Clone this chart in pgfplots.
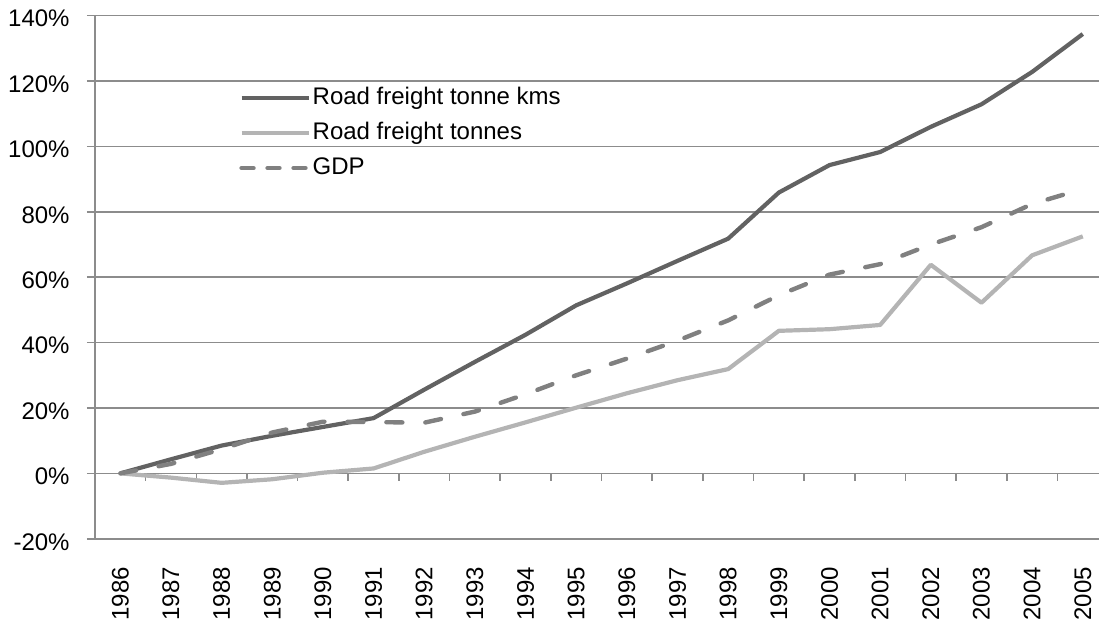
\documentclass[border=0pt]{standalone}
\usepackage{fontspec}
\setmainfont{Liberation Sans}
\usepackage{pgfplots}
\pgfplotsset{compat=1.18}
\definecolor{darkl}{HTML}{626262}
\definecolor{lightl}{HTML}{B4B4B4}
\definecolor{gdpl}{HTML}{808080}
\definecolor{gridc}{HTML}{8C8C8C}
\begin{document}
\fontsize{12}{14}\selectfont
\begin{tikzpicture}
\begin{axis}[
  scale only axis, width=502.25pt, height=261.65pt,
  xmin=-0.5, xmax=19.32, ymin=-20, ymax=140,
  axis y line*=left, axis x line*=bottom,
  x axis line style={draw=none},
  y axis line style={draw=gridc, line width=0.75pt},
  ymajorgrids, grid style={draw=gridc, line width=0.75pt},
  tick align=outside, major tick length=4pt,
  xtick style={draw=none},
  ytick style={draw=gridc, line width=0.75pt},
  ytick={-20,0,20,40,60,80,100,120,140},
  yticklabels={-20\%,0\%,20\%,40\%,60\%,80\%,100\%,120\%,140\%},
  xtick={0,...,19},
  xticklabels={1986,1987,1988,1989,1990,1991,1992,1993,1994,1995,1996,1997,1998,1999,2000,2001,2002,2003,2004,2005},
  ticklabel style={font=\fontsize{12}{14}\selectfont},
  xticklabel style={rotate=90, anchor=east, xshift=-6pt},
  yticklabel style={xshift=-4.5pt, yshift=-1.5pt},
  legend style={at={(rel axis cs:0.1434,0.865)}, anchor=north west, draw=none, fill=none,
    inner sep=0pt, row sep=5.85pt, column sep=1pt,
    nodes={inner sep=0pt, text height=9pt, text depth=2.6pt},
    font=\fontsize{12}{14}\selectfont},
  legend cell align=left,
  legend image code/.code={\draw[#1] (0pt,0pt) -- (33.5pt,0pt);},
]
\pgfplotsinvokeforeach{0.5,1.5,...,18.5}{\draw[gridc, line width=0.75pt] (axis cs:#1,0) -- ([yshift=-4pt]axis cs:#1,0);}
\addplot[darkl, line width=2.1pt, line join=round] coordinates {
(0,0) (1,4.3) (2,8.5) (3,11.5) (4,14.2) (5,16.9) (6,25.6) (7,34.1) (8,42.4) (9,51.4)
(10,58.1) (11,65.0) (12,71.8) (13,85.9) (14,94.3) (15,98.3) (16,106.0) (17,112.9) (18,122.8) (19,134.4)};
\addlegendentry{Road freight tonne kms}
\addplot[lightl, line width=2.1pt, line join=round] coordinates {
(0,0) (1,-1.3) (2,-2.9) (3,-1.8) (4,0.2) (5,1.5) (6,6.6) (7,11.2) (8,15.6) (9,20.1)
(10,24.5) (11,28.5) (12,31.9) (13,43.6) (14,44.1) (15,45.4) (16,63.8) (17,52.2) (18,66.7) (19,72.5)};
\addlegendentry{Road freight tonnes}
\addlegendimage{gdpl, line width=2.2pt, line cap=round, dash pattern=on 6pt off 7pt}
\addlegendentry{GDP}
\addplot[gdpl, line width=2.2pt, line cap=round, line join=round, dash pattern=on 8pt off 11.5pt, forget plot] coordinates {
(0,0) (1,2.9) (2,7.4) (3,12.5) (4,15.8) (5,15.7) (6,15.5) (7,18.9) (8,24.2) (9,30.0)
(10,35.1) (11,40.6) (12,46.8) (13,54.5) (14,60.8) (15,64.0) (16,70.0) (17,75.3) (18,82.4) (19,87.0)};
\end{axis}
\pgfresetboundingbox
\path[use as bounding box] ([xshift=-47.5pt,yshift=-41pt]current axis.south west) rectangle ([yshift=7.85pt]current axis.north east);
\end{tikzpicture}
\end{document}
